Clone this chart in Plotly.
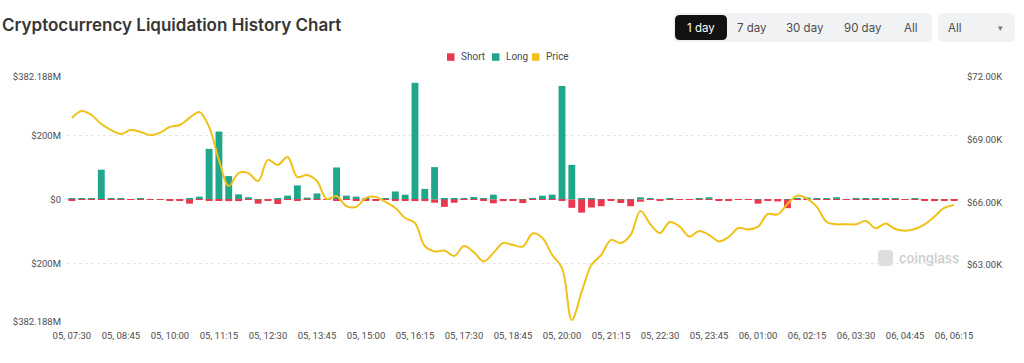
import plotly.graph_objects as go

# ---------------- data ----------------
categories = [
    "05, 07:30", "05, 07:45", "05, 08:00", "05, 08:15", "05, 08:30", "05, 08:45", "05, 09:00", "05, 09:15", "05, 09:30", "05, 09:45",
    "05, 10:00", "05, 10:15", "05, 10:30", "05, 10:45", "05, 11:00", "05, 11:15", "05, 11:30", "05, 11:45", "05, 12:00", "05, 12:15",
    "05, 12:30", "05, 12:45", "05, 13:00", "05, 13:15", "05, 13:30", "05, 13:45", "05, 14:00", "05, 14:15", "05, 14:30", "05, 14:45",
    "05, 15:00", "05, 15:15", "05, 15:30", "05, 15:45", "05, 16:00", "05, 16:15", "05, 16:30", "05, 16:45", "05, 17:00", "05, 17:15",
    "05, 17:30", "05, 17:45", "05, 18:00", "05, 18:15", "05, 18:30", "05, 18:45", "05, 19:00", "05, 19:15", "05, 19:30", "05, 19:45",
    "05, 20:00", "05, 20:15", "05, 20:30", "05, 20:45", "05, 21:00", "05, 21:15", "05, 21:30", "05, 21:45", "05, 22:00", "05, 22:15",
    "05, 22:30", "05, 22:45", "05, 23:00", "05, 23:15", "05, 23:30", "05, 23:45", "06, 00:00", "06, 00:15", "06, 00:30", "06, 00:45",
    "06, 01:00", "06, 01:15", "06, 01:30", "06, 01:45", "06, 02:00", "06, 02:15", "06, 02:30", "06, 02:45", "06, 03:00", "06, 03:15",
    "06, 03:30", "06, 03:45", "06, 04:00", "06, 04:15", "06, 04:30", "06, 04:45", "06, 05:00", "06, 05:15", "06, 05:30", "06, 05:45",
    "06, 06:15",
]
tick_labels = [
    "05, 07:30", "05, 08:45", "05, 10:00", "05, 11:15", "05, 12:30", "05, 13:45", "05, 15:00", "05, 16:15", "05, 17:30", "05, 18:45",
    "05, 20:00", "05, 21:15", "05, 22:30", "05, 23:45", "06, 01:00", "06, 02:15", "06, 03:30", "06, 04:45", "06, 06:15",
]

# long liquidations ($M)
long_vals = [
    4, 2, 3, 93, 3, 4, 1, 4, 1, 1,
    1, 1, 3, 9, 158, 212, 73, 16, 7, 1,
    1, 3, 12, 44, 6, 19, 1, 100, 12, 9,
    2, 1, 2, 25, 15, 364, 33, 101, 3, 3,
    4, 8, 3, 15, 1, 1, 1, 5, 12, 15,
    354, 108, 2, 4, 1, 1, 1, 1, 7, 4,
    1, 2, 1, 1, 3, 7, 1, 1, 1, 1,
    1, 1, 1, 1, 3, 6, 4, 4, 7, 1,
    2, 2, 3, 3, 3, 1, 2, 1, 1, 1,
    1,
]
# short liquidations ($M)
short_vals = [
    4, 1, 1, 1, 1, 1, 1, 1, 1, 1,
    3, 2, 13, 1, 3, 4, 5, 5, 1, 13,
    3, 14, 1, 3, 1, 1, 1, 2, 1, 4,
    4, 2, 1, 4, 2, 5, 5, 10, 23, 10,
    1, 1, 4, 12, 5, 4, 11, 1, 1, 1,
    4, 26, 41, 25, 21, 3, 11, 21, 7, 1,
    3, 1, 1, 1, 1, 1, 3, 3, 1, 1,
    13, 2, 6, 27, 1, 1, 1, 1, 1, 1,
    1, 1, 1, 1, 1, 1, 1, 3, 5, 3,
    3,
]
# BTC price ($K)
price_vals = [
    70.04, 70.37, 70.18, 69.75, 69.46, 69.27, 69.46, 69.37, 69.22, 69.34,
    69.61, 69.70, 70.04, 70.32, 69.60, 68.03, 66.78, 67.40, 67.40, 67.02,
    68.03, 67.79, 68.17, 67.21, 67.31, 67.02, 66.16, 66.30, 65.82, 65.78,
    66.21, 66.26, 66.02, 65.73, 65.25, 65.01, 63.91, 63.65, 63.69, 63.43,
    63.91, 63.62, 63.17, 63.58, 64.05, 63.96, 63.88, 64.51, 64.29, 63.48,
    62.86, 60.37, 61.71, 63.00, 63.48, 64.20, 64.05, 64.44, 65.59, 64.96,
    64.53, 65.06, 64.84, 64.36, 64.63, 64.44, 64.13, 64.34, 64.77, 64.70,
    64.84, 65.44, 65.42, 65.92, 66.32, 66.18, 65.78, 65.06, 64.95, 64.95,
    64.95, 65.11, 64.76, 64.99, 64.72, 64.64, 64.72, 64.94, 65.32, 65.73,
    65.87,
]

left_tickvals = [-382.188, -200, 0, 200, 382.188]
left_ticktext = ["$382.188M", "$200M", "$0", "$200M", "$382.188M"]
right_tickvals = [63, 66, 69, 72]
right_ticktext = ["$63.00K", "$66.00K", "$69.00K", "$72.00K"]

GREEN = "#20a68b"
RED = "#e8394f"
YELLOW = "#f0c11b"
TEXT = "#4d4d4d"

W, H = 1024, 363
L, R, T, B = 67, 65, 77, 41
PW, PH = W - L - R, H - T - B


def X(px):
    return (px - L) / PW


def Y(py):
    return 1 - (py - T) / PH


fig = go.Figure()
fig.add_trace(go.Bar(x=categories, y=long_vals, marker_color=GREEN, marker_line_width=0,
                     name="Long", showlegend=False))
fig.add_trace(go.Bar(x=categories, y=[-v for v in short_vals], marker_color=RED, marker_line_width=0,
                     name="Short", showlegend=False))
fig.add_trace(go.Scatter(x=categories, y=price_vals, yaxis="y2", mode="lines",
                         line=dict(color=YELLOW, width=2, shape="spline", smoothing=1.0),
                         name="Price", showlegend=False))

tickfont = dict(family="Roboto, sans-serif", size=9.5, color=TEXT)

fig.update_layout(
    width=W, height=H,
    margin=dict(l=L, r=R, t=T, b=B, pad=0),
    paper_bgcolor="white", plot_bgcolor="white",
    barmode="relative", bargap=0.3,
    showlegend=False,
    xaxis=dict(type="category", tickmode="array", tickvals=tick_labels, ticktext=tick_labels,
               tickfont=tickfont, showgrid=False, zeroline=False, showline=False,
               ticks="", tickangle=0, range=[-0.5, len(categories) - 0.5], fixedrange=True,
               ticklabelstandoff=6),
    yaxis=dict(range=[-382.188, 382.188], tickmode="array", tickvals=left_tickvals,
               ticktext=left_ticktext, tickfont=tickfont, showgrid=True, gridcolor="#e6e6e6",
               griddash="dot", gridwidth=1, zeroline=False, showline=False, ticks="",
               ticklabelstandoff=5),
    yaxis2=dict(range=[60.27, 72.0], overlaying="y", side="right", tickmode="array",
                tickvals=right_tickvals, ticktext=right_ticktext, tickfont=tickfont,
                showgrid=False, zeroline=False, showline=False, ticks="",
                ticklabelstandoff=7),
)

shapes = []
annotations = []


def rrect(x0, y0, x1, y1, r, color):
    rx, ry = r / PW, r / PH
    a0, a1 = X(x0), X(x1)
    b0, b1 = Y(y1), Y(y0)  # b0 bottom, b1 top
    path = (f"M {a0+rx},{b0} L {a1-rx},{b0} Q {a1},{b0} {a1},{b0+ry} "
            f"L {a1},{b1-ry} Q {a1},{b1} {a1-rx},{b1} L {a0+rx},{b1} "
            f"Q {a0},{b1} {a0},{b1-ry} L {a0},{b0+ry} Q {a0},{b0} {a0+rx},{b0} Z")
    return dict(type="path", xref="paper", yref="paper", path=path,
                fillcolor=color, line=dict(width=0), layer="above")


# title
annotations.append(dict(text="Cryptocurrency Liquidation History Chart", xref="paper", yref="paper",
                        x=X(0), y=Y(25), xanchor="left", yanchor="middle", showarrow=False,
                        font=dict(family="Inter, sans-serif", size=17, color="#363636", weight=600)))

# period buttons
shapes.append(rrect(673, 13, 932, 42, 6, "#f1f2f4"))
shapes.append(rrect(675, 15, 727, 40, 5, "#121212"))
btns = [("1 day", 701, "white"), ("7 day", 752, TEXT), ("30 day", 805, TEXT),
        ("90 day", 863, TEXT), ("All", 911, TEXT)]
for label, cx, col in btns:
    annotations.append(dict(text=label, xref="paper", yref="paper", x=X(cx), y=Y(27.5),
                            xanchor="center", yanchor="middle", showarrow=False,
                            font=dict(family="Inter, sans-serif", size=11.5, color=col)))
# dropdown
shapes.append(rrect(938, 13, 1015, 42, 6, "#f1f2f4"))
annotations.append(dict(text="All", xref="paper", yref="paper", x=X(946), y=Y(27.5),
                        xanchor="left", yanchor="middle", showarrow=False,
                        font=dict(family="Inter, sans-serif", size=11.5, color=TEXT)))
annotations.append(dict(text="▾", xref="paper", yref="paper", x=X(1000), y=Y(28),
                        xanchor="center", yanchor="middle", showarrow=False,
                        font=dict(family="DejaVu Sans, sans-serif", size=9, color="#777777")))

# legend
leg = [("Short", RED, 447), ("Long", GREEN, 492), ("Price", YELLOW, 532)]
for label, col, sx in leg:
    shapes.append(dict(type="rect", xref="paper", yref="paper", x0=X(sx), x1=X(sx + 7.5),
                       y0=Y(60.8), y1=Y(53.3), fillcolor=col, line=dict(width=0)))
    annotations.append(dict(text=label, xref="paper", yref="paper", x=X(sx + 11.5), y=Y(57),
                            xanchor="left", yanchor="middle", showarrow=False,
                            font=dict(family="Roboto, sans-serif", size=10, color=TEXT)))

# watermark
shapes.append(rrect(878, 250, 893, 266, 4, "#dedede"))
annotations.append(dict(text="coinglass", xref="paper", yref="paper", x=X(897), y=Y(258),
                        xanchor="left", yanchor="middle", showarrow=False,
                        font=dict(family="Inter, sans-serif", size=13, color="#cfcfcf", weight=600)))

fig.update_layout(shapes=shapes, annotations=annotations)
fig.write_html("out.html", config={"displayModeBar": False},
               post_script="document.body.style.margin='0';")
